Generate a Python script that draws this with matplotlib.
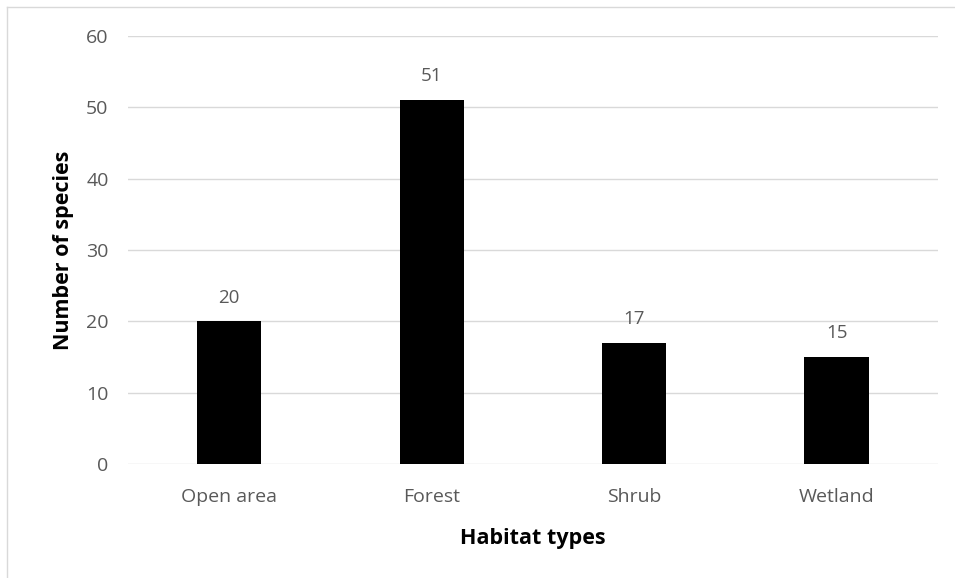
import matplotlib.pyplot as plt
from matplotlib.lines import Line2D

plt.rcParams["font.family"] = ["Open Sans", "DejaVu Sans"]

habitats = ["Open area", "Forest", "Shrub", "Wetland"]
species = [20, 51, 17, 15]
y_ticks = [0, 10, 20, 30, 40, 50, 60]


def main():
    fig = plt.figure(figsize=(9.55, 5.78), dpi=100)
    ax = fig.add_axes([0.134, 0.197, 0.848, 0.741])

    x = range(len(habitats))
    bars = ax.bar(x, species, width=0.317, color="black", zorder=3)
    for b, v in zip(bars, species):
        ax.annotate(str(v), (b.get_x() + b.get_width() / 2, v), xytext=(0, 17),
                    textcoords="offset points", ha="center", va="center",
                    fontsize=13.5, color="#595959")

    ax.set_xlim(-0.5, len(habitats) - 0.5)
    ax.set_ylim(0, 60)
    ax.set_yticks(y_ticks)
    ax.set_xticks(list(x))
    ax.set_xticklabels(habitats)
    ax.tick_params(length=0, labelsize=14, labelcolor="#595959")
    ax.tick_params(axis="y", pad=14)
    ax.tick_params(axis="x", pad=17)
    ax.grid(axis="y", color="#d9d9d9", linewidth=1, zorder=0)
    for s in ax.spines.values():
        s.set_visible(False)

    ax.set_xlabel("Habitat types", fontsize=15.5, fontweight="bold", labelpad=16)
    ax.set_ylabel("Number of species", fontsize=15.5, fontweight="bold", labelpad=9)

    # chart border
    fig.add_artist(Line2D([7 / 955, 7 / 955], [0, 1 - 7 / 578], color="#d9d9d9", lw=1))
    fig.add_artist(Line2D([7 / 955, 1], [1 - 7 / 578, 1 - 7 / 578], color="#d9d9d9", lw=1))

    fig.savefig("out.png", dpi=100)


if __name__ == "__main__":
    main()
